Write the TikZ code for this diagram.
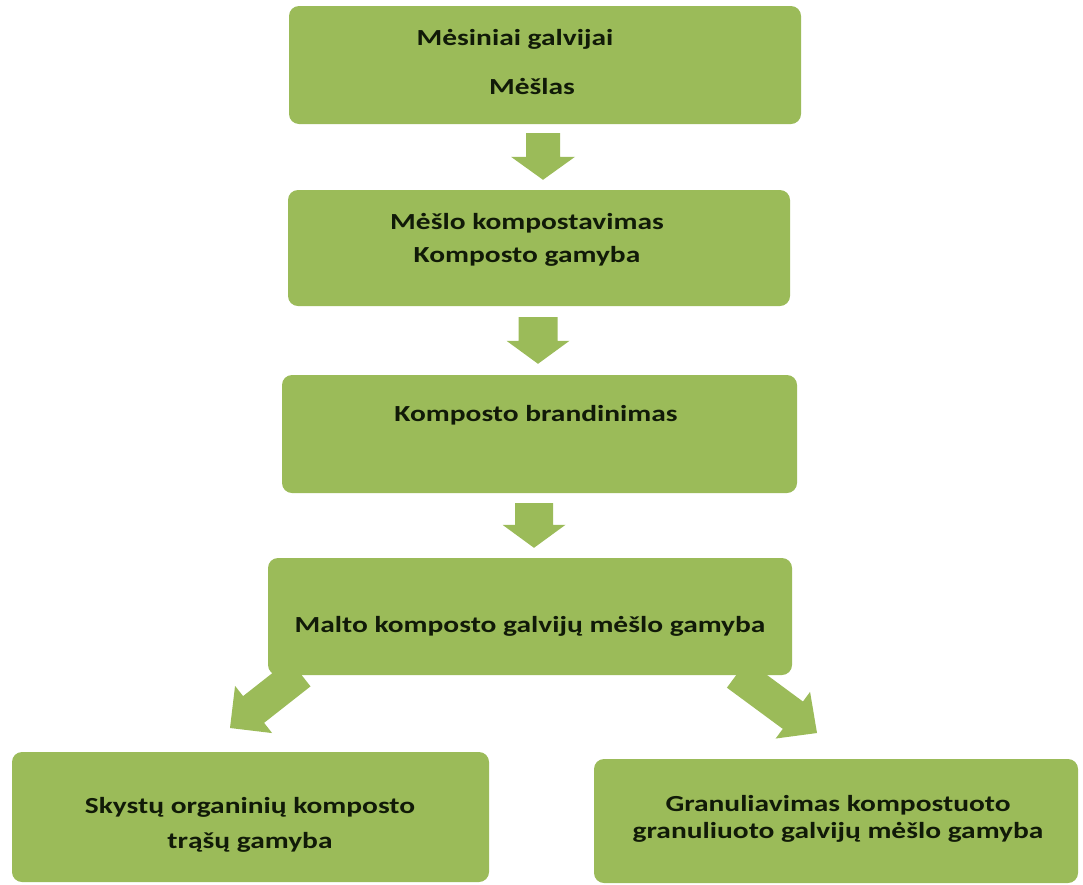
\documentclass[tikz,border=0pt]{standalone}
\usepackage{fontspec}
\newfontfamily\boxfont[FakeStretch=1.28]{Carlito}
\usetikzlibrary{calc}
\definecolor{boxgreen}{HTML}{9BBB59}
\definecolor{boxtext}{HTML}{111A08}
\tikzset{
  box/.style={fill=boxgreen, rounded corners=10pt, inner sep=0pt, draw=none},
  txt/.style={font=\boxfont\bfseries\fontsize{23}{28}\selectfont, text=boxtext, inner sep=0pt, anchor=base},
  arrowfill/.style={fill=boxgreen, draw=none}
}
% start, tip, shaft half width, head half width, head length
\newcommand\blockarrow[5]{%
  \coordinate (bac) at ($(#2)!#5!(#1)$);
  \fill[arrowfill] ($(#1)!#3!90:(#2)$) -- ($(bac)!#3!90:(#2)$) -- ($(bac)!#4!90:(#2)$) -- (#2)
    -- ($(bac)!#4!-90:(#2)$) -- ($(bac)!#3!-90:(#2)$) -- ($(#1)!#3!-90:(#2)$) -- cycle;}
\begin{document}
\begin{tikzpicture}[x=1pt,y=-1pt]
\useasboundingbox (0,0) rectangle (1083,884);
% boxes
\node[box, minimum width=512pt, minimum height=118pt] (b1) at (545,65) {};
\node[box, minimum width=502pt, minimum height=116pt] (b2) at (539,248) {};
\node[box, minimum width=515pt, minimum height=118pt] (b3) at (539.5,434) {};
\node[box, minimum width=524pt, minimum height=117pt] (b4) at (530,616.5) {};
\node[box, minimum width=477pt, minimum height=130pt] (b5) at (250.5,817) {};
\node[box, minimum width=484pt, minimum height=124pt] (b6) at (836,821) {};
% arrow end points
\coordinate (a1s) at ($(b1.south)+(-2,9)$);
\coordinate (a1t) at ($(b2.north)+(4,-10)$);
\coordinate (a2s) at ($(b2.south)+(-1,11)$);
\coordinate (a2t) at ($(b3.north)+(-1.5,-11)$);
\coordinate (a3s) at ($(b3.south)+(-5.5,10)$);
\coordinate (a3t) at ($(b4.north)+(4,-10)$);
\coordinate (a4s) at (300,673);
\coordinate (a4t) at (230,728);
\coordinate (a5s) at (737,674);
\coordinate (a5t) at (817,733);
\blockarrow{a1s}{a1t}{17pt}{32pt}{23pt}
\blockarrow{a2s}{a2t}{19.5pt}{31.5pt}{23pt}
\blockarrow{a3s}{a3t}{19pt}{31.5pt}{23pt}
\blockarrow{a4s}{a4t}{17pt}{30pt}{30pt}
\blockarrow{a5s}{a5t}{17pt}{29pt}{30pt}
% texts
\node[txt] (t1a) at (515,45) {Mėsiniai galvijai};
\node[txt] (t1b) at (532,94) {Mėšlas};
\node[txt] (t2a) at (527,229) {Mėšlo kompostavimas};
\node[txt] (t2b) at (527,262) {Komposto gamyba};
\node[txt] (t3) at (536,421) {Komposto brandinimas};
\node[txt] (t4) at (530,632) {Malto komposto galvijų mėšlo gamyba};
\node[txt] (t5a) at (250,813) {Skystų organinių komposto};
\node[txt] (t5b) at (250,848) {trąšų gamyba};
\node[txt] (t6a) at (838,811) {Granuliavimas kompostuoto};
\node[txt] (t6b) at (838,838) {granuliuoto galvijų mėšlo gamyba};
\end{tikzpicture}
\end{document}
